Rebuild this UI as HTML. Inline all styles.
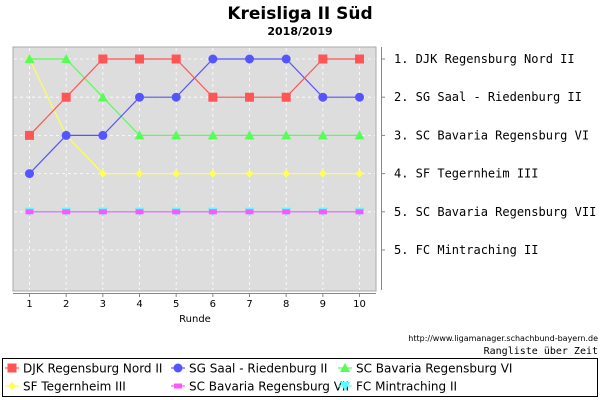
<!DOCTYPE html>
<html><head><meta charset="utf-8"><style>
body{margin:0;background:#fff;}
svg{display:block;font-family:"DejaVu Sans","Liberation Sans",sans-serif;}
.mono{font-family:"DejaVu Sans Mono","Liberation Mono",monospace;}
</style></head><body>
<svg id="c" width="600" height="400" xmlns="http://www.w3.org/2000/svg">
<text x="300" y="19" text-anchor="middle" font-size="17" font-weight="bold">Kreisliga II Süd</text>
<text x="300" y="35" text-anchor="middle" font-size="11" font-weight="bold">2018/2019</text>
<rect x="13" y="47" width="363" height="244" fill="#dddddd" stroke="#aaaaaa"/>
<g id="grid"></g>
<line x1="13" y1="293.5" x2="376" y2="293.5" stroke="#888"/>
<line x1="381.5" y1="47" x2="381.5" y2="290" stroke="#888"/>
<g id="xt"></g><g id="rt"></g>
<text x="195" y="322" text-anchor="middle" font-size="10">Runde</text>
<g id="series"></g>
<text x="598" y="341" text-anchor="end" font-size="8">http://www.ligamanager.schachbund-bayern.de</text>
<text x="598" y="354" text-anchor="end" font-size="10" class="mono">Rangliste über Zeit</text>
<rect x="2.5" y="358.5" width="595" height="38" fill="none" stroke="#000"/>
<g id="legend"></g>
</svg>
<script>
const rounds=[1,2,3,4,5,6,7,8,9,10];
const names=["DJK Regensburg Nord II","SG Saal - Riedenburg II","SC Bavaria Regensburg VI","SF Tegernheim III","SC Bavaria Regensburg VII","FC Mintraching II"];
const finalLabels=["1. DJK Regensburg Nord II","2. SG Saal - Riedenburg II","3. SC Bavaria Regensburg VI","4. SF Tegernheim III","5. SC Bavaria Regensburg VII","5. FC Mintraching II"];
const djk=[3,2,1,1,1,2,2,2,1,1];
const saal=[4,3,3,2,2,1,1,1,2,2];
const bav6=[1,1,2,3,3,3,3,3,3,3];
const teg=[1,3,4,4,4,4,4,4,4,4];
const bav7=[5,5,5,5,5,5,5,5,5,5];
const mint=[5,5,5,5,5,5,5,5,5,5];
const colors=["#ff5555","#5555ff","#55ff55","#ffff55","#ff55ff","#55ffff"];
const shapes=["square","circle","triangle","diamond","rect","down"];
const X=r=>29.5+(r-1)*36.67, Y=k=>59+(k-1)*38.2;
const NS="http://www.w3.org/2000/svg";
function mk(t,a,p){const e=document.createElementNS(NS,t);for(const k in a)e.setAttribute(k,a[k]);p.appendChild(e);return e;}
const grid=document.getElementById('grid'),xt=document.getElementById('xt'),rt=document.getElementById('rt');
rounds.forEach(r=>{
 const l=mk('line',{x1:X(r),x2:X(r),y1:48,y2:290,stroke:'#fff','stroke-dasharray':'3,3','stroke-width':0.8},grid);
 
 
 const t=mk('line',{x1:X(r),x2:X(r),y1:294,y2:297,stroke:'#888'},xt);
 
 
 const tx=mk('text',{x:X(r),y:307,'text-anchor':'middle','font-size':10},xt);tx.textContent=r;
 
 
});
finalLabels.forEach((s,i)=>{
 const g=mk('line',{x1:14,x2:375,y1:Y(i+1),y2:Y(i+1),stroke:'#fff','stroke-dasharray':'3,3','stroke-width':0.8},grid);
 
 
 const t=mk('line',{x1:381,x2:385,y1:Y(i+1),y2:Y(i+1),stroke:'#888'},rt);
 
 
 const tx=mk('text',{x:394,y:Y(i+1)+4,'font-size':12,'class':'mono'},rt);tx.textContent=s;
 
 
});
function marker(sh,x,y,c,p){
 let e;
 if(sh=='square')e=mk('rect',{x:x-4.5,y:y-4.5,width:9,height:9,fill:c},p);
 else if(sh=='circle')e=mk('circle',{cx:x,cy:y,r:4.5,fill:c},p);
 else if(sh=='triangle')e=mk('polygon',{points:`${x},${y-5} ${x+5},${y+4} ${x-5},${y+4}`,fill:c},p);
 else if(sh=='diamond')e=mk('polygon',{points:`${x},${y-4} ${x+4},${y} ${x},${y+4} ${x-4},${y}`,fill:c},p);
 else if(sh=='rect')e=mk('rect',{x:x-4,y:y-2.5,width:8,height:5,fill:c},p);
 else e=mk('polygon',{points:`${x-5},${y-4} ${x+5},${y-4} ${x},${y+5}`,fill:c},p);
 return e;
}
const data=[djk,saal,bav6,teg,bav7,mint];
const sg=document.getElementById('series');
[5,4,3,2,1,0].forEach(i=>{
 const g=mk('g',{},sg);
 
 
 const pl=mk('polyline',{points:data[i].map((v,j)=>X(rounds[j])+','+Y(v)).join(' '),fill:'none',stroke:colors[i],'stroke-width':1.2},g);
 
 
 data[i].forEach((v,j)=>{const m=marker(shapes[i],X(rounds[j]),Y(v),colors[i],g);
  
  });
});
const lg=document.getElementById('legend');
const lx=[5,171,338,5,171,338],ly=[368,368,368,386,386,386];
names.forEach((n,i)=>{
 const g=mk('g',{},lg);
 
 
 mk('line',{x1:lx[i],x2:lx[i]+14,y1:ly[i],y2:ly[i],stroke:colors[i],'stroke-width':1.2},g);
 marker(shapes[i],lx[i]+7,ly[i],colors[i],g);
 const t=mk('text',{x:lx[i]+18,y:ly[i]+4.5,'font-size':12},g);t.textContent=n;
});
</script>
</body></html>
